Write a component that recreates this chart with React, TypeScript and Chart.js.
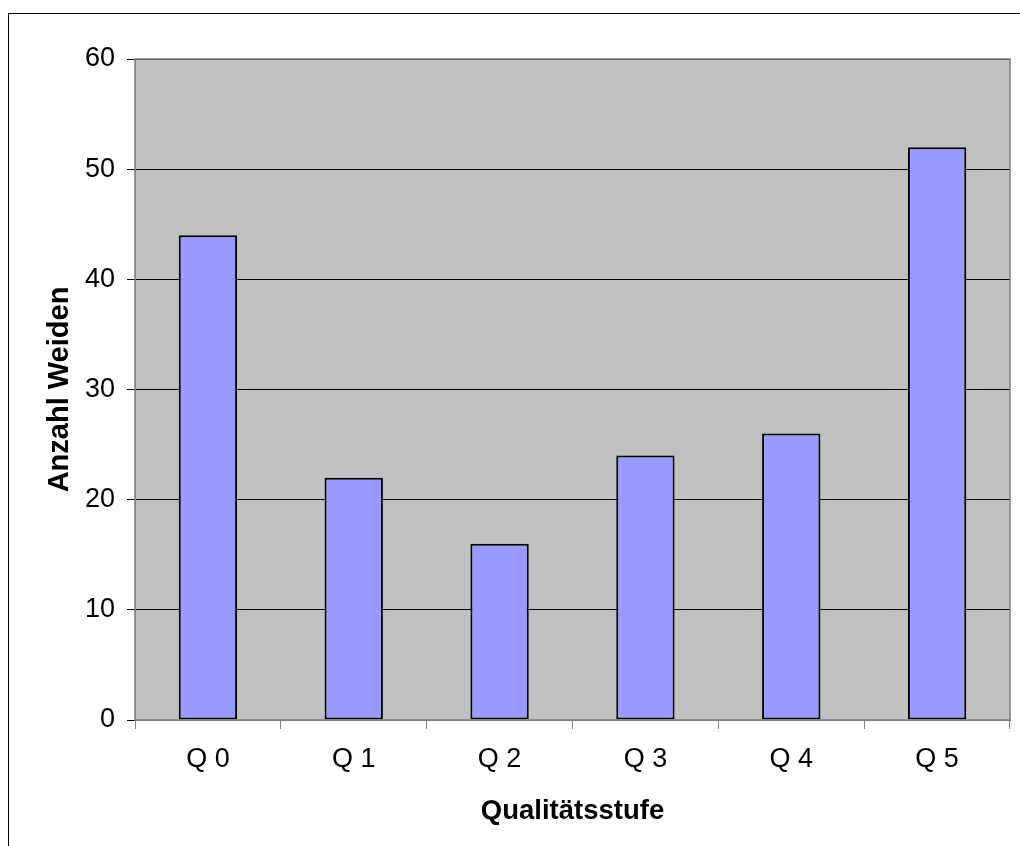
import React, { useEffect, useRef } from "react";
import { Chart, registerables } from "chart.js";

Chart.register(...registerables);

const categories = ["Q 0", "Q 1", "Q 2", "Q 3", "Q 4", "Q 5"];
const counts = [44, 22, 16, 24, 26, 52];
const yTitle = "Anzahl Weiden";
const xTitle = "Qualitätsstufe";

const FONT = "'Liberation Sans', Arial, sans-serif";

const framePlugin = {
  id: "framePlugin",
  beforeDraw(chart: any) {
    const { ctx, chartArea } = chart;
    ctx.save();
    ctx.fillStyle = "#ffffff";
    ctx.fillRect(0, 0, chart.width, chart.height);
    ctx.fillStyle = "#C0C0C0";
    ctx.fillRect(chartArea.left, chartArea.top, chartArea.right - chartArea.left, chartArea.bottom - chartArea.top);
    ctx.strokeStyle = "#000000";
    ctx.lineWidth = 1;
    ctx.strokeRect(8.5, 13.5, 1200, 1000);
    ctx.restore();
  },
  afterDraw(chart: any) {
    const { ctx, chartArea } = chart;
    ctx.save();
    ctx.strokeStyle = "#808080";
    ctx.lineWidth = 1.5;
    ctx.strokeRect(chartArea.left, chartArea.top, chartArea.right - chartArea.left, chartArea.bottom - chartArea.top);
    ctx.restore();
  },
};

export default function App() {
  const ref = useRef<HTMLCanvasElement>(null);
  useEffect(() => {
    if (!ref.current) return;
    const chart = new Chart(ref.current, {
      type: "bar",
      data: {
        labels: categories,
        datasets: [
          {
            data: counts,
            backgroundColor: "#9999FF",
            borderColor: "#000000",
            borderWidth: 2,
            borderSkipped: false,
            barPercentage: 0.4,
            categoryPercentage: 1,
          },
        ],
      },
      options: {
        responsive: false,
        animation: false,
        layout: { padding: { top: 59, right: 10, left: 0, bottom: 0 } },
        plugins: { legend: { display: false }, tooltip: { enabled: false } },
        scales: {
          x: {
            grid: {
              display: true,
              drawOnChartArea: false,
              drawTicks: true,
              tickLength: 9,
              color: "#808080",
              offset: true,
            },
            border: { display: true, color: "#808080", width: 1 },
            ticks: { color: "#000", font: { family: FONT, size: 27 }, padding: 14 },
            title: {
              display: true,
              text: xTitle,
              color: "#000",
              font: { family: FONT, size: 27.5, weight: "bold" },
              padding: { top: 0, bottom: 18 },
            },
            afterFit(scale: any) {
              scale.height = 126;
            },
          },
          y: {
            min: 0,
            max: 60,
            ticks: { stepSize: 10, color: "#000", font: { family: FONT, size: 27 }, padding: 12 },
            grid: { color: "#000000", lineWidth: 1, tickLength: 8, tickColor: "#000000" },
            border: { display: true, color: "#808080", width: 1 },
            title: {
              display: true,
              text: yTitle,
              color: "#000",
              font: { family: FONT, size: 29, weight: "bold" },
              padding: { top: 43, bottom: 0 },
            },
            afterFit(scale: any) {
              scale.width = 135;
            },
          },
        },
      },
      plugins: [framePlugin],
    } as any);
    return () => chart.destroy();
  }, []);
  return (
    <div style={{ position: "fixed", left: 0, top: 0, width: 1020, height: 846, overflow: "hidden", background: "#fff" }}>
      <canvas ref={ref} width={1020} height={846} style={{ display: "block" }} />
    </div>
  );
}
